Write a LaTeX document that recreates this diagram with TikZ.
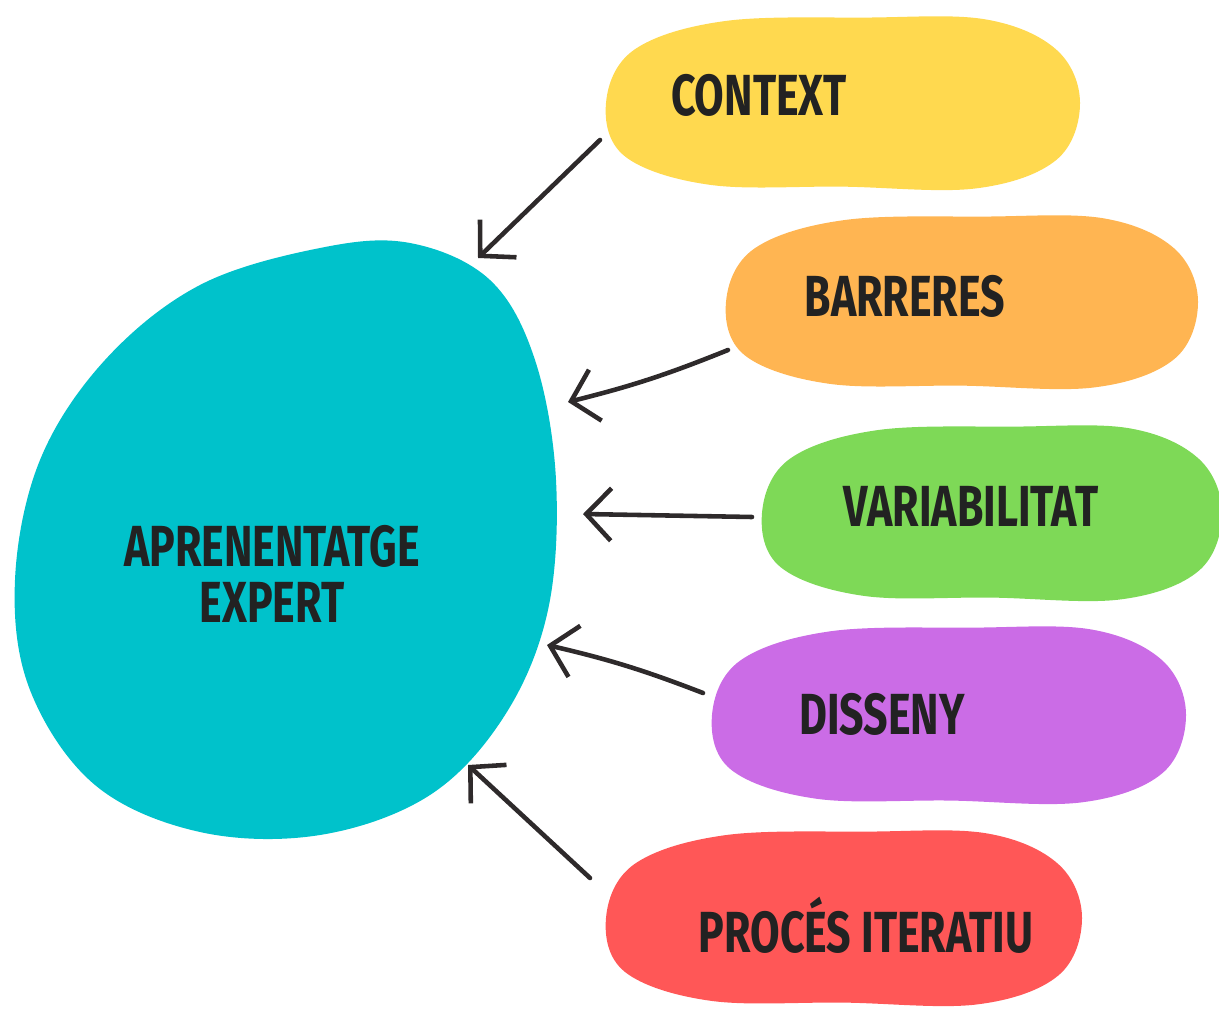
\documentclass[tikz,border=0pt]{standalone}
\usepackage{fontspec}
\setmainfont{Fira Sans}[FakeStretch=0.74]
\usetikzlibrary{arrows.meta, positioning}

\definecolor{tealblob}{HTML}{00C2CB}
\definecolor{yellowblob}{HTML}{FFD94F}
\definecolor{orangeblob}{HTML}{FFB552}
\definecolor{greenblob}{HTML}{7ED957}
\definecolor{purpleblob}{HTML}{CB6CE6}
\definecolor{redblob}{HTML}{FF5757}
\definecolor{ink}{HTML}{222222}
\definecolor{arrowink}{HTML}{2E2A2B}

% blob drawn in a box: #1 colour, #2 top-left corner (px), #3 width, #4 height
\newcommand{\blobshape}[4]{%
  \begin{scope}[shift={#2}, xscale=#3, yscale=#4]
    \fill[#1] plot[smooth cycle, tension=0.6] coordinates {
      (0.06,0.2) (0.25,0.04) (0.55,0.02) (0.8,0.03) (0.95,0.2)
      (1.0,0.5) (0.95,0.82) (0.78,0.98) (0.5,0.97) (0.22,0.96)
      (0.04,0.8) (0.0,0.5)};
  \end{scope}}

\begin{document}
\begin{tikzpicture}[
      x = 0.02cm, y = -0.02cm,     % pixel grid, y down
      > = {Straight Barb[length=0.5cm, width=1.05cm]},
      semithick
    ]

    \tikzstyle{Lbl}=[      % label inside a blob
      font = \fontsize{33}{33}\selectfont\bfseries,
      text = ink,
      inner sep = 0pt
    ]

    \tikzstyle{Arr}=[      % hand drawn arrow
      ->,
      draw = arrowink,
      line width = 2.6pt,
      line cap = round
    ]

    \useasboundingbox (0,0) rectangle (1219,1016);

    % Background blobs
    \fill[tealblob] plot[smooth cycle, tension=0.6] coordinates {
      (410,243) (490,280) (535,360) (556,480) (548,610) (505,715)
      (430,795) (320,835) (200,832) (95,785) (30,690) (15,580)
      (40,460) (105,360) (200,285) (320,248)};

    \blobshape{yellowblob}{(606,14)}{474}{178}
    \blobshape{orangeblob}{(726,213)}{472}{178}
    \blobshape{greenblob}{(762,423)}{460}{180}
    \blobshape{purpleblob}{(712,624)}{474}{182}
    \blobshape{redblob}{(606,828)}{476}{180}

    % Definition of the nodes
    \node[Lbl, align=center] (main) at (272,574) {APRENENTATGE\\[-0.05cm]EXPERT};
    \node[Lbl] (ctx) at (759,95) {CONTEXT};
    \node[Lbl] (bar) at (905,296) {BARRERES};
    \node[Lbl] (var) at (971,506) {VARIABILITAT};
    \node[Lbl] (dis) at (882,714) {DISSENY};
    \node[Lbl] (pro) at (866,925) {PROCÉS ITERATIU};

    % Arrow ends
    \coordinate (ctx-out) at (600,140);
    \coordinate (bar-out) at (728,350);
    \coordinate (var-out) at (752,517);
    \coordinate (dis-out) at (703,693);
    \coordinate (pro-out) at (590,878);
    \coordinate (main-in1) at (478,258);
    \coordinate (main-in2) at (568,402);
    \coordinate (main-in3) at (583,514);
    \coordinate (main-in4) at (547,645);
    \coordinate (main-in5) at (468,765);

    % Definition of the edges
    \draw[Arr] (ctx-out) -- (main-in1);
    \draw[Arr] (bar-out) to[bend left=4] (main-in2);
    \draw[Arr] (var-out) -- (main-in3);
    \draw[Arr] (dis-out) to[bend right=4] (main-in4);
    \draw[Arr] (pro-out) -- (main-in5);

  \end{tikzpicture}
\end{document}
